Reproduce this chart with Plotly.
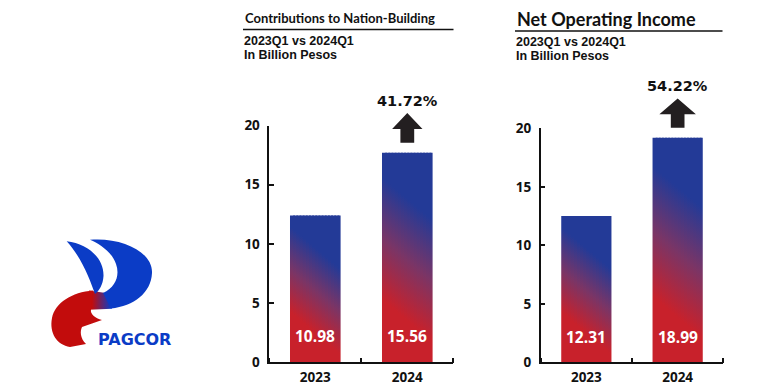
import plotly.graph_objects as go

# ---------------- data ----------------
years = ["2023", "2024"]
contrib_labels = ["10.98", "15.56"]      # values printed on the bars
contrib_heights = [12.4, 17.7]           # bar heights as drawn against the axis
noi_labels = ["12.31", "18.99"]
noi_heights = [12.5, 19.2]
growth = ["41.72%", "54.22%"]
titles = ["Contributions to Nation-Building", "Net Operating Income"]
subtitle_lines = ["2023Q1 vs 2024Q1", "In Billion Pesos"]
y_ticks = [0, 5, 10, 15, 20]

# ---------------- style ----------------
W, H = 760, 392
OFF = 8          # page body margin of the html page
RED, PURPLE, BLUE = "#c8212b", "#7a3566", "#233a97"
ARROW = "#231f20"
LOGO_BLUE, LOGO_RED = "#0b3cc6", "#c20c0c"
BAR_W = 0.55
NSTRIP = 16


def px2x(p):
    return (p - OFF) / W


def px2y(p):
    return 1 - (p - OFF) / H


panels = [
    dict(x="x", y="y", xd=[px2x(269.3), px2x(453.3)], yd=[px2y(362.3), px2y(125.5)],
         heights=contrib_heights, labels=contrib_labels, growth=growth[0], title=titles[0],
         tsize=13, tx=243, ty=17.5, line=[243, 453.5, 29.5], sub_y=[41, 55.5], head=0.165),
    dict(x="x2", y="y2", xd=[px2x(540.7), px2x(723.3)], yd=[px2y(362.3), px2y(128.3)],
         heights=noi_heights, labels=noi_labels, growth=growth[1], title=titles[1],
         tsize=18, tx=515, ty=18.5, line=[515, 722.5, 31], sub_y=[42, 56.5], head=0.2),
]

fig = go.Figure()
shapes = []
annotations = []

for p in panels:
    xa, ya = p["x"], p["y"]
    # gradient bars built from vertical strips (diagonal red -> blue gradient)
    for i, h in enumerate(p["heights"]):
        left = i - BAR_W / 2
        sw = BAR_W / NSTRIP
        for k in range(NSTRIP):
            f = (k + 0.5) / NSTRIP
            xl = left + k * sw
            xr = xl + sw + (sw * 0.6 if k < NSTRIP - 1 else 0)
            shift = (0.5 - f) * 3.6
            fig.add_trace(go.Scatter(
                x=[xl, xr, xr, xl, xl], y=[0, 0, h, h, 0],
                xaxis=xa, yaxis=ya, mode="none", fill="toself",
                fillgradient=dict(type="vertical",
                                  colorscale=[[0, RED], [0.5, PURPLE], [1, BLUE]],
                                  start=0.2 * h + shift, stop=0.78 * h + shift),
                hoverinfo="skip", showlegend=False))
        annotations.append(dict(x=i, y=2.2, xref=xa, yref=ya, text=p["labels"][i],
                                showarrow=False, xanchor="center", yanchor="middle",
                                font=dict(family="Open Sans", size=15.5, color="white", weight=700)))

    # growth arrow above the 2024 bar
    x0, x1 = p["xd"]
    y0, y1 = p["yd"]

    def fx(v, x0=x0, x1=x1):
        return x0 + (v + 0.5) / 2 * (x1 - x0)

    def fy(v, y0=y0, y1=y1):
        return y0 + v / 20 * (y1 - y0)

    top = p["heights"][1]
    cx = 1
    hw, sw_ = p["head"], 0.075
    b, base, tip = top + 0.85, top + 2.0, top + 3.35
    pts = [(cx - sw_, b), (cx + sw_, b), (cx + sw_, base), (cx + hw, base), (cx, tip),
           (cx - hw, base), (cx - sw_, base)]
    path = "M " + " L ".join(f"{fx(a):.5f},{fy(c):.5f}" for a, c in pts) + " Z"
    shapes.append(dict(type="path", path=path, xref="paper", yref="paper",
                       fillcolor=ARROW, line=dict(width=0)))
    annotations.append(dict(x=fx(1), y=fy(top + 4.4), xref="paper", yref="paper",
                            text=p["growth"], showarrow=False, xanchor="center",
                            yanchor="middle",
                            font=dict(family="DejaVu Sans", size=14.5, color="#111", weight=700)))

    # title block
    annotations.append(dict(x=px2x(p["tx"]), y=px2y(p["ty"]), xref="paper", yref="paper",
                            text=p["title"], showarrow=False, xanchor="left", yanchor="middle",
                            font=dict(family="Lato", size=p["tsize"], color="#111", weight=700)))
    lx0, lx1, ly = p["line"]
    shapes.append(dict(type="line", xref="paper", yref="paper", x0=px2x(lx0), x1=px2x(lx1),
                       y0=px2y(ly), y1=px2y(ly), line=dict(color="#111", width=1.5)))
    for txt, yy in zip(subtitle_lines, p["sub_y"]):
        annotations.append(dict(x=px2x(p["tx"]), y=px2y(yy), xref="paper", yref="paper",
                                text=txt, showarrow=False, xanchor="left", yanchor="middle",
                                borderpad=0,
                                font=dict(family="Liberation Sans", size=12.5, color="#111",
                                          weight=700)))

# ---------------- logo (hidden pixel-space axes) ----------------
logo_paths = [
    ("M 66.7 241.3 C 88 244, 104 258, 103.5 276 C 103 285, 99 291, 95 294 "
     "C 90 280, 82 258, 66.7 241.3 Z", LOGO_BLUE),
    ("M 90 239.7 C 122 237, 153 252, 152 273 C 151 293, 134 306, 111 308.5 "
     "L 103 293 C 116 287, 120 275, 116 264 C 112 252, 100 244, 90 239.7 Z", LOGO_BLUE),
    ("M 93 290.5 C 72 292, 55 303, 52 318 C 49 333, 57 345, 70 347 L 86 344 "
     "C 80 338, 80 331, 82 327 L 102 320 C 95 318, 90 314, 91 309.5 Z", LOGO_RED),
]
for path, col in logo_paths:
    shapes.append(dict(type="path", path=path, xref="x3", yref="y3",
                       fillcolor=col, line=dict(width=0), layer="above"))
fig.add_trace(go.Scatter(
    x=[89, 104, 112, 89, 89], y=[290.5, 292.8, 308.8, 309.8, 290.5], xaxis="x3", yaxis="y3",
    mode="none", fill="toself",
    fillgradient=dict(type="horizontal", colorscale=[[0, LOGO_RED], [1, LOGO_BLUE]],
                      start=92, stop=111),
    hoverinfo="skip", showlegend=False))
annotations.append(dict(x=134, y=339, xref="x3", yref="y3", text="PAGCOR", showarrow=False,
                        xanchor="center", yanchor="middle",
                        font=dict(family="DejaVu Sans", size=16, color=LOGO_BLUE, weight=700)))

# ---------------- axes ----------------
def xaxis(domain, anchor):
    return dict(domain=domain, anchor=anchor, range=[-0.5, 1.5], tickvals=[0, 1],
                ticktext=years, ticks="", showline=True, linecolor="#111", linewidth=1.5,
                showgrid=False, zeroline=False, fixedrange=True, automargin=False,
                tickfont=dict(family="Open Sans", size=13.5, color="#111", weight=700),
                minor=dict(tickvals=[-0.5, 0.5, 1.5], ticks="inside", ticklen=5,
                           tickcolor="#111", tickwidth=1.5, showgrid=False),
                ticklabelstandoff=2)


def yaxis(domain, anchor):
    return dict(domain=domain, anchor=anchor, range=[0, 20], tickvals=y_ticks,
                ticks="inside", ticklen=5, tickcolor="#111", tickwidth=1.5,
                showline=True, linecolor="#111", linewidth=1.5, showgrid=False,
                zeroline=False, fixedrange=True, ticklabelstandoff=5, automargin=False,
                tickfont=dict(family="Open Sans", size=13.5, color="#111", weight=700))


fig.update_layout(
    width=W, height=H, autosize=False,
    margin=dict(l=0, r=0, t=0, b=0, pad=0, autoexpand=False),
    paper_bgcolor="white", plot_bgcolor="rgba(0,0,0,0)", showlegend=False,
    xaxis=xaxis(panels[0]["xd"], "y"), yaxis=yaxis(panels[0]["yd"], "x"),
    xaxis2=xaxis(panels[1]["xd"], "y2"), yaxis2=yaxis(panels[1]["yd"], "x2"),
    xaxis3=dict(domain=[0, 1], range=[OFF, W + OFF], visible=False, anchor="y3",
                fixedrange=True, automargin=False),
    yaxis3=dict(domain=[0, 1], range=[H + OFF, OFF], visible=False, anchor="x3",
                fixedrange=True, automargin=False),
    shapes=shapes, annotations=annotations,
)

fig.write_html("out.html")
